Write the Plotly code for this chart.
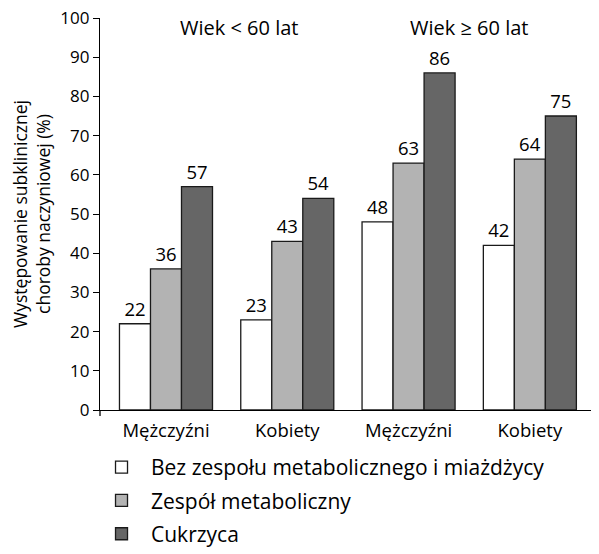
import plotly.graph_objects as go

categories = ["Mężczyźni", "Kobiety", "Mężczyźni ", "Kobiety "]
tick_labels = ["Mężczyźni", "Kobiety", "Mężczyźni", "Kobiety"]
series_names = ["Bez zespołu metabolicznego i miażdżycy", "Zespół metaboliczny", "Cukrzyca"]
bez_zespolu = [22, 23, 48, 42]
zespol_metaboliczny = [36, 43, 63, 64]
cukrzyca = [57, 54, 86, 75]
group_titles = ["Wiek < 60 lat", "Wiek ≥ 60 lat"]
y_ticks = [0, 10, 20, 30, 40, 50, 60, 70, 80, 90, 100]

FONT = "Open Sans"
colors = ["#ffffff", "#b3b3b3", "#666666"]
series_values = [bez_zespolu, zespol_metaboliczny, cukrzyca]

fig = go.Figure()
for i, (name, vals) in enumerate(zip(series_names, series_values)):
    fig.add_trace(go.Bar(
        x=categories, y=vals, name=name,
        marker=dict(color=colors[i], line=dict(color="#1a1a1a", width=1.3)),
        text=[str(v) for v in vals], textposition="outside",
        textfont=dict(family=FONT, size=18.5, color="black"),
        cliponaxis=False,
        legendgroup=f"g{i}",
    ))

PLOT_H = 392
fig.update_layout(
    width=591, height=546,
    margin=dict(l=92, r=0, t=10, b=144, autoexpand=False),
    paper_bgcolor="white", plot_bgcolor="white",
    barmode="group", bargap=0.233, bargroupgap=0,
    font=dict(family=FONT, size=18, color="black"),
    showlegend=True,
    legend=dict(
        orientation="v", x=-0.016, xanchor="left", y=-144 / PLOT_H, yanchor="bottom",
        font=dict(family=FONT, size=21, color="black"),
        tracegroupgap=3, itemwidth=49, traceorder="grouped",
        bgcolor="rgba(0,0,0,0)",
    ),
)

fig.update_xaxes(
    type="category", range=[-0.544, 3.57],
    tickvals=categories, ticktext=tick_labels,
    showline=True, linecolor="black", linewidth=1.3,
    ticks="", showgrid=False, zeroline=False,
    tickfont=dict(family=FONT, size=18.5), ticklabelstandoff=4,
)
fig.update_yaxes(
    range=[0, 100], tickvals=y_ticks,
    showline=True, linecolor="black", linewidth=1.3,
    ticks="outside", ticklen=6, tickwidth=1.3, tickcolor="black",
    showgrid=False, zeroline=False, ticklabeloverflow="allow",
    tickfont=dict(family=FONT, size=17),
    title=dict(text="Występowanie subklinicznej<br>choroby naczyniowej (%)",
               font=dict(family=FONT, size=17.5), standoff=11),
)

fig.add_shape(type="line", xref="paper", yref="paper", x0=0, x1=0,
              y0=0, y1=-6 / PLOT_H, line=dict(color="black", width=1.3))

fig.add_annotation(text=group_titles[0], x=0.6, y=0.977, xref="x", yref="paper",
                   yanchor="middle", showarrow=False, font=dict(family=FONT, size=20))
fig.add_annotation(text=group_titles[1], x=2.5, y=0.977, xref="x", yref="paper",
                   yanchor="middle", showarrow=False, font=dict(family=FONT, size=20))

fig.write_html("out.html")
